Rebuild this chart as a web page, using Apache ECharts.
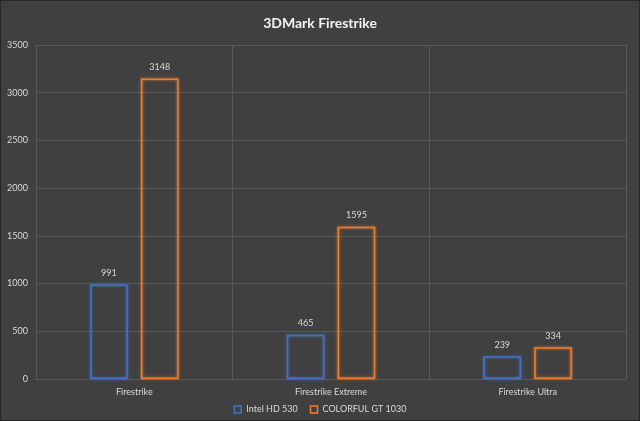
<!DOCTYPE html>
<html><head><meta charset="utf-8">
<script src="https://cdn.jsdelivr.net/npm/echarts@6/dist/echarts.min.js"></script>
<style>html,body{margin:0;padding:0;background:#404040;}#c{width:638px;height:419px;border:1px solid #262626;}</style>
</head><body><div id="c"></div>
<script>
const categories = ['Firestrike', 'Firestrike Extreme', 'Firestrike Ultra'];
const intelHD530 = [991, 465, 239];
const gt1030 = [3148, 1595, 334];
const seriesNames = ['Intel HD 530', 'COLORFUL GT 1030'];
const yTicks = {min: 0, max: 3500, interval: 500};

const chart = echarts.init(document.getElementById('c'));
const font = 'Lato, "Open Sans", sans-serif';
function barSeries(name, data, color) {
  return {
    name, type: 'bar', data,
    barGap: '35%', barCategoryGap: '55%',
    itemStyle: {color: 'rgba(0,0,0,0)', borderColor: color, borderWidth: 1.5,
      shadowColor: color, shadowBlur: 3},
    label: {show: true, position: 'top', distance: 7, color: '#d9d9d9', fontSize: 9, fontFamily: font}
  };
}
chart.setOption({
  backgroundColor: '#404040',
  animation: false,
  title: {text: '3DMark Firestrike', left: 'center', top: 10,
    textStyle: {color: '#f2f2f2', fontSize: 14, fontWeight: 'bold', fontFamily: font}},
  grid: {left: 35, right: 13, top: 44, bottom: 41},
  legend: {bottom: 1, left: 'center', itemWidth: 7, itemHeight: 7, itemGap: 12,
    textStyle: {color: '#d9d9d9', fontSize: 9, fontFamily: font},
    data: seriesNames.map((n, i) => ({name: n, icon: 'rect',
      itemStyle: {color: 'rgba(0,0,0,0)', borderColor: i ? '#ED7D31' : '#4472C4', borderWidth: 1.5}}))},
  xAxis: {type: 'category', data: categories,
    axisLine: {lineStyle: {color: '#595959'}}, axisTick: {show: false},
    splitLine: {show: true, lineStyle: {color: '#595959'}},
    axisLabel: {color: '#d9d9d9', fontSize: 9, fontFamily: font, margin: 9}},
  yAxis: {type: 'value', min: yTicks.min, max: yTicks.max, interval: yTicks.interval,
    axisLine: {show: false}, axisTick: {show: false},
    splitLine: {lineStyle: {color: '#595959'}},
    axisLabel: {color: '#d9d9d9', fontSize: 9, fontFamily: font, margin: 8, formatter: v => String(v)}},
  series: [barSeries(seriesNames[0], intelHD530, '#4472C4'), barSeries(seriesNames[1], gt1030, '#ED7D31')]
});
</script></body></html>
